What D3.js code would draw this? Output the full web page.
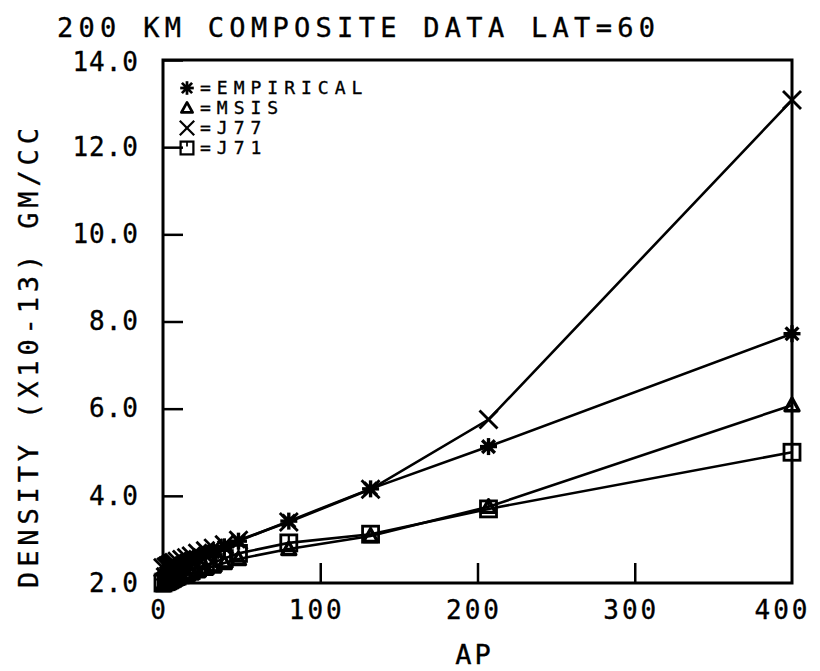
<!DOCTYPE html>
<html>
<head>
<meta charset="utf-8">
<script src="https://cdn.jsdelivr.net/npm/d3@7"></script>
<style>
  body { margin: 0; background: #fff; }
  svg text { font-family: "DejaVu Sans Mono", monospace; fill: #000; stroke: #000; stroke-width: 0.35px; }
</style>
</head>
<body>
<div id="chart"></div>
<script>
"use strict";

// geomagnetic ap values of the composite bins
var apValues = [0, 2, 3, 4, 5, 6, 7, 9, 12, 15, 18, 22, 27, 32, 39, 48, 80, 132, 207, 400];

// density in units of 1e-13 gm/cc
var empirical = [2.20, 2.23, 2.25, 2.27, 2.29, 2.31, 2.33, 2.36, 2.41, 2.46, 2.51, 2.57, 2.64, 2.72, 2.83, 2.96, 3.42, 4.16, 5.13, 7.72];
var msis      = [1.95, 1.98, 2.00, 2.01, 2.03, 2.05, 2.07, 2.10, 2.14, 2.18, 2.22, 2.27, 2.33, 2.38, 2.46, 2.55, 2.78, 3.08, 3.75, 6.08];
var j77       = [2.35, 2.37, 2.39, 2.41, 2.43, 2.45, 2.47, 2.50, 2.54, 2.58, 2.62, 2.68, 2.74, 2.80, 2.88, 2.98, 3.40, 4.15, 5.75, 13.08];
var j71       = [2.00, 2.03, 2.05, 2.07, 2.09, 2.11, 2.13, 2.16, 2.20, 2.25, 2.29, 2.35, 2.41, 2.47, 2.56, 2.68, 2.92, 3.12, 3.70, 5.00];

var xTicks = [0, 100, 200, 300, 400];
var yTicks = [2, 4, 6, 8, 10, 12, 14];

var series = [
    { name: "=EMPIRICAL", values: empirical, symbol: "star" },
    { name: "=MSIS", values: msis, symbol: "triangle" },
    { name: "=J77", values: j77, symbol: "cross" },
    { name: "=J71", values: j71, symbol: "square" }
];

var width = 820, height = 671;
var margin = { left: 163, right: 28, top: 60, bottom: 88 };

var svg = d3.select("#chart").append("svg")
    .attr("width", width)
    .attr("height", height);

var x = d3.scaleLinear().domain([0, 400]).range([margin.left, width - margin.right]);
var y = d3.scaleLinear().domain([2, 14]).range([height - margin.bottom, margin.top]);

// plotter style markers, drawn around (0,0)
function drawSymbol(g, kind) {
    var s;
    if (kind === "star") {
        s = 8.5;
        [[-s, 0, s, 0], [0, -s, 0, s], [-s * 0.75, -s * 0.75, s * 0.75, s * 0.75], [-s * 0.75, s * 0.75, s * 0.75, -s * 0.75]]
            .forEach(function (l) {
                g.append("line").attr("x1", l[0]).attr("y1", l[1]).attr("x2", l[2]).attr("y2", l[3])
                    .attr("stroke", "#000").attr("stroke-width", 3.4);
            });
        g.append("circle").attr("r", 4.5).attr("fill", "#000");
    } else if (kind === "triangle") {
        s = 7;
        g.append("path").attr("d", "M0," + (-s) + "L" + s + "," + (s * 0.8) + "L" + (-s) + "," + (s * 0.8) + "Z")
            .attr("fill", "none").attr("stroke", "#000").attr("stroke-width", 3.4)
            .attr("stroke-linejoin", "round");
    } else if (kind === "cross") {
        s = 9;
        g.append("line").attr("x1", -s).attr("y1", -s).attr("x2", s).attr("y2", s)
            .attr("stroke", "#000").attr("stroke-width", 2.8);
        g.append("line").attr("x1", -s).attr("y1", s).attr("x2", s).attr("y2", -s)
            .attr("stroke", "#000").attr("stroke-width", 2.8);
    } else if (kind === "square") {
        s = 8;
        g.append("rect").attr("x", -s).attr("y", -s).attr("width", 2 * s).attr("height", 2 * s)
            .attr("fill", "none").attr("stroke", "#000").attr("stroke-width", 2.8);
        g.append("line").attr("x1", 0).attr("y1", -s).attr("x2", 0).attr("y2", -s + 6)
            .attr("stroke", "#000").attr("stroke-width", 2.2);
    }
}

// frame
svg.append("rect")
    .attr("x", x(0)).attr("y", y(14))
    .attr("width", x(400) - x(0)).attr("height", y(2) - y(14))
    .attr("fill", "none").attr("stroke", "#000").attr("stroke-width", 3);

// inward ticks on left and bottom
var yAxis = d3.axisLeft(y).tickValues(yTicks).tickSizeInner(-20).tickSizeOuter(0)
    .tickFormat(d3.format(".1f")).tickPadding(24);
var gy = svg.append("g").attr("transform", "translate(" + x(0) + ",0)").call(yAxis);
gy.select(".domain").remove();
gy.selectAll(".tick line").attr("stroke", "#000").attr("stroke-width", 2.5);
gy.selectAll(".tick text").attr("font-size", 26).attr("letter-spacing", 1)
    .attr("font-family", "DejaVu Sans Mono")
    .attr("dy", function (d) { return d === 14 ? "0.42em" : "0.32em"; });

var xAxis = d3.axisBottom(x).tickValues(xTicks).tickSizeInner(-20).tickSizeOuter(0)
    .tickFormat(d3.format("d")).tickPadding(18);
var gx = svg.append("g").attr("transform", "translate(0," + y(2) + ")").call(xAxis);
gx.select(".domain").remove();
gx.selectAll(".tick line").attr("stroke", "#000").attr("stroke-width", 2.5)
    .filter(function (d) { return d === 0 || d === 400; }).remove();
gx.selectAll(".tick text").attr("font-size", 26).attr("letter-spacing", 3)
    .attr("font-family", "DejaVu Sans Mono")
    .attr("dx", function (d) { return d === 400 ? -10 : -4; });

// series lines and markers
var line = d3.line()
    .x(function (d, i) { return x(apValues[i]); })
    .y(function (d) { return y(d); });

series.forEach(function (s) {
    svg.append("path").datum(s.values)
        .attr("d", line)
        .attr("fill", "none").attr("stroke", "#000").attr("stroke-width", 2.6);
    s.values.forEach(function (v, i) {
        var g = svg.append("g").attr("transform", "translate(" + x(apValues[i]) + "," + y(v) + ")");
        drawSymbol(g, s.symbol);
    });
});

// legend
var legend = svg.append("g").attr("transform", "translate(187,88)");
series.forEach(function (s, i) {
    var g = legend.append("g").attr("transform", "translate(0," + (i * 20) + ")");
    drawSymbol(g.append("g").attr("transform", "scale(0.8)"), s.symbol);
    g.append("text").attr("x", 13).attr("y", 6)
        .attr("font-size", 18).attr("letter-spacing", 6)
        .text(s.name);
});

// titles
svg.append("text")
    .attr("x", 57).attr("y", 37)
    .attr("font-size", 27)
    .attr("textLength", 598).attr("lengthAdjust", "spacing")
    .text("200 KM COMPOSITE DATA LAT=60");

svg.append("text")
    .attr("x", x(200) - 3).attr("y", 664)
    .attr("text-anchor", "middle")
    .attr("font-size", 27).attr("letter-spacing", 3)
    .text("AP");

svg.append("text")
    .attr("transform", "translate(38," + 358 + ") rotate(-90)")
    .attr("text-anchor", "middle")
    .attr("font-size", 27)
    .attr("textLength", 460).attr("lengthAdjust", "spacing")
    .text("DENSITY (X10-13) GM/CC");
</script>
</body>
</html>
